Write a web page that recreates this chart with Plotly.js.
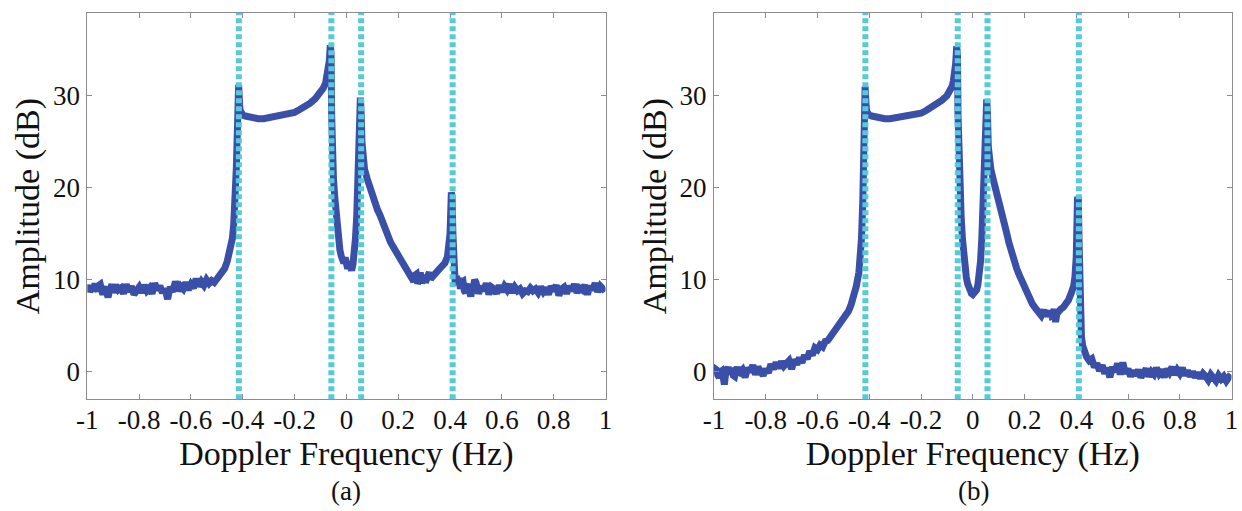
<!DOCTYPE html>
<html>
<head>
<meta charset="utf-8">
<script src="https://cdn.plot.ly/plotly-3.0.1.min.js"></script>
<style>
  html, body { margin: 0; padding: 0; background: #ffffff; }
  #chart { width: 1242px; height: 511px; }
</style>
</head>
<body>
<div id="chart"></div>
<script>
// ---------------- DATA ----------------
// Panel (a): Doppler frequency (Hz) and amplitude (dB)
const freqA = [
  -1.00,-0.995,-0.99,-0.985,-0.98,-0.975,-0.97,-0.965,-0.96,-0.955,-0.95,-0.945,-0.94,-0.935,-0.93,-0.925,-0.92,-0.915,-0.91,-0.905,
  -0.90,-0.89,-0.88,-0.87,-0.86,-0.85,-0.84,-0.83,-0.82,-0.81,
  -0.80,-0.79,-0.78,-0.77,-0.76,-0.75,-0.74,-0.73,-0.72,-0.71,
  -0.70,-0.69,-0.68,-0.67,-0.66,-0.65,-0.64,-0.63,-0.62,-0.61,
  -0.60,-0.59,-0.58,-0.57,-0.56,-0.55,-0.54,-0.53,-0.52,-0.51,
  -0.50,-0.49,-0.48,-0.47,-0.46,-0.45,-0.44,-0.435,-0.43,-0.425,
  -0.42,-0.418,-0.416,-0.414,-0.412,-0.41,-0.405,-0.40,-0.39,-0.38,
  -0.36,-0.34,-0.32,-0.30,-0.28,-0.26,-0.24,-0.22,-0.20,-0.18,
  -0.16,-0.14,-0.12,-0.10,-0.09,-0.08,-0.075,-0.07,-0.066,-0.062,
  -0.059,-0.057,-0.055,-0.05,-0.045,-0.04,-0.035,-0.03,-0.025,-0.02,
  -0.015,-0.01,-0.005,0.0,0.005,0.01,0.015,0.02,0.025,0.03,
  0.035,0.04,0.045,0.05,0.054,0.057,0.06,0.065,0.07,0.08,
  0.09,0.10,0.11,0.12,0.13,0.14,0.15,0.16,0.17,0.18,
  0.19,0.20,0.21,0.22,0.23,0.24,0.25,0.26,0.265,0.27,0.275,0.28,
  0.285,0.29,0.295,0.30,0.305,0.31,0.315,0.32,0.325,0.33,0.34,0.35,0.36,0.37,0.38,
  0.39,0.395,0.40,0.405,0.408,0.411,0.414,0.42,0.425,0.43,0.435,0.44,
  0.445,0.45,0.455,0.46,0.465,0.47,0.475,0.48,0.485,0.49,0.495,0.50,0.51,0.52,0.53,0.54,
  0.55,0.56,0.57,0.58,0.59,0.60,0.61,0.62,0.63,0.64,
  0.65,0.66,0.67,0.68,0.69,0.70,0.71,0.72,0.73,0.74,
  0.75,0.76,0.77,0.78,0.79,0.80,0.81,0.82,0.83,0.84,
  0.85,0.86,0.87,0.88,0.89,0.90,0.91,0.92,0.93,0.94,
  0.95,0.96,0.97,0.98,0.99,1.00
];
const ampA = [
  9.0,9.4,8.7,9.1,9.3,8.8,9.6,9.0,8.8,9.4,9.5,8.9,8.4,9.0,9.2,8.6,8.1,8.7,9.0,9.5,
  8.6,9.4,8.9,9.1,8.5,9.5,8.7,9.3,8.4,9.0,
  9.2,8.6,9.4,8.8,9.1,8.5,9.6,8.9,9.3,8.6,
  9.0,7.9,9.2,8.7,9.8,8.8,9.3,9.0,9.7,8.9,
  9.5,9.1,10.1,9.3,9.8,9.4,10.0,9.6,9.9,9.7,
  10.1,10.3,10.6,11.2,12.0,13.0,14.5,16.0,18.0,22.0,
  27.0,29.5,31.2,30.5,29.0,28.4,28.1,27.9,27.8,27.7,
  27.6,27.5,27.5,27.6,27.7,27.8,27.9,28.0,28.2,28.5,
  28.8,29.2,29.7,30.3,30.8,31.4,32.0,32.8,33.8,35.5,
  34.5,28.0,23.5,21.0,19.0,17.0,15.5,14.0,13.2,12.6,
  12.0,11.8,12.4,11.6,11.2,12.0,11.4,11.0,11.6,12.5,
  14.5,17.0,21.0,26.0,29.8,28.0,25.0,23.0,22.0,21.0,
  20.0,19.0,18.2,17.6,17.0,16.2,15.5,14.8,14.1,13.6,
  13.1,12.6,12.0,11.5,11.0,10.6,10.2,9.8,10.5,10.6,9.6,9.9,
  10.8,9.6,10.2,10.5,9.7,10.0,10.4,10.8,10.1,10.3,10.6,10.9,11.2,11.5,11.8,
  12.5,13.5,15.0,19.5,19.0,15.0,10.5,9.5,10.4,9.4,10.2,9.0,
  9.7,9.8,8.8,8.6,9.3,9.5,8.7,8.2,9.0,9.2,10.0,9.7,8.5,9.3,8.8,9.6,
  8.4,9.2,9.0,8.5,9.4,8.7,9.3,8.9,9.5,8.6,
  9.2,8.8,9.0,8.5,8.8,8.7,9.1,8.8,9.0,8.6,
  9.2,8.7,9.1,8.4,9.3,8.8,9.4,8.3,9.0,9.2,
  8.5,9.3,8.8,9.5,8.6,9.1,8.9,9.4,8.4,9.3,
  8.9,9.6,8.7,9.3,9.0,9.2
];

// Panel (b)
const freqB = [
  -1.00,-0.995,-0.99,-0.985,-0.98,-0.975,-0.97,-0.965,-0.96,-0.955,-0.95,-0.945,-0.94,-0.935,-0.93,-0.925,-0.92,-0.915,-0.91,-0.905,
  -0.90,-0.89,-0.88,-0.87,-0.86,-0.85,-0.84,-0.83,-0.82,-0.81,
  -0.80,-0.79,-0.78,-0.77,-0.76,-0.75,-0.74,-0.73,-0.72,-0.71,
  -0.70,-0.69,-0.68,-0.67,-0.66,-0.65,-0.64,-0.63,-0.62,-0.61,
  -0.60,-0.59,-0.58,-0.57,-0.56,-0.55,-0.54,-0.53,-0.52,-0.51,
  -0.50,-0.49,-0.48,-0.47,-0.46,-0.45,-0.44,-0.435,-0.43,-0.425,
  -0.42,-0.418,-0.416,-0.414,-0.412,-0.41,-0.405,-0.40,-0.39,-0.38,
  -0.36,-0.34,-0.32,-0.30,-0.28,-0.26,-0.24,-0.22,-0.20,-0.18,
  -0.16,-0.14,-0.12,-0.10,-0.09,-0.08,-0.075,-0.07,-0.066,-0.062,
  -0.059,-0.057,-0.055,-0.05,-0.045,-0.04,-0.035,-0.03,-0.025,-0.02,
  -0.015,-0.01,-0.005,0.0,0.005,0.01,0.015,0.02,0.025,0.03,
  0.035,0.04,0.045,0.05,0.054,0.057,0.06,0.065,0.07,0.08,
  0.09,0.10,0.11,0.12,0.13,0.14,0.15,0.16,0.17,0.18,
  0.19,0.20,0.21,0.22,0.23,0.24,0.25,0.26,0.265,0.27,0.275,0.28,
  0.285,0.29,0.295,0.30,0.305,0.31,0.315,0.32,0.325,0.33,0.34,0.35,0.36,0.37,0.38,
  0.39,0.395,0.40,0.405,0.408,0.411,0.414,0.417,0.42,0.425,
  0.43,0.44,0.45,0.46,0.47,0.48,0.49,0.50,0.51,0.52,
  0.53,0.54,0.55,0.56,0.57,0.58,0.59,0.60,0.61,0.62,
  0.63,0.64,0.65,0.66,0.67,0.68,0.69,0.70,0.71,0.72,
  0.73,0.74,0.75,0.76,0.77,0.78,0.79,0.80,0.81,0.82,
  0.83,0.84,0.85,0.86,0.87,0.88,0.89,0.90,0.91,0.92,
  0.93,0.94,0.95,0.96,0.97,0.98,0.99,1.00
];
const ampB = [
  -0.3,0.3,0.2,-0.4,-0.6,0.0,0.1,-0.5,-1.4,-0.2,0.3,0.5,-0.3,0.2,0.4,-0.4,-0.5,0.1,0.5,0.0,
  -0.1,0.2,-0.6,0.4,0.0,0.7,-0.3,0.5,0.1,-0.4,
  0.3,-0.1,0.8,0.3,1.0,0.4,1.1,0.6,0.9,1.2,
  0.3,1.3,0.8,1.5,1.0,1.8,1.4,2.2,1.8,2.6,
  2.4,2.9,2.7,3.3,3.4,3.8,4.1,4.4,4.7,5.1,
  5.5,6.0,6.6,7.3,8.2,9.3,10.8,12.3,14.5,18.5,
  25.5,29.5,31.0,30.2,28.8,28.3,28.0,27.9,27.8,27.7,
  27.6,27.5,27.5,27.6,27.6,27.7,27.8,28.0,28.1,28.4,
  28.7,29.1,29.5,30.0,30.4,31.0,31.6,32.4,33.5,35.4,
  34.4,28.0,24.0,21.0,17.0,14.5,12.5,11.2,10.3,9.6,
  9.0,8.7,8.5,8.4,8.6,8.5,8.9,9.5,10.5,12.0,
  14.5,17.5,21.5,26.0,29.6,28.0,24.5,23.0,22.0,20.8,
  19.8,18.8,17.8,16.5,15.2,14.0,12.9,12.0,11.2,10.5,
  9.8,9.2,8.5,7.9,7.4,7.0,6.7,6.5,6.1,6.4,6.7,6.3,
  6.6,6.0,6.4,6.6,6.1,6.2,6.8,5.4,6.3,6.6,6.8,7.0,7.3,7.8,8.5,
  9.3,10.3,12.5,19.0,18.8,14.0,8.0,5.0,3.8,2.8,
  2.2,1.6,1.2,1.4,0.5,0.9,0.1,0.7,-0.2,0.4,
  -0.6,0.5,0.0,0.9,-0.3,1.0,-0.2,0.3,-0.5,0.1,
  -0.4,0.2,-0.6,-0.1,0.3,-0.5,0.0,-0.3,0.4,-0.2,
  0.2,-0.6,0.3,-0.1,0.5,-0.3,0.2,-0.2,0.4,-0.4,
  0.1,-0.5,0.0,-0.6,-0.1,-0.7,-0.2,-0.5,-0.9,-0.3,
  -0.6,-1.0,-0.4,-0.8,-0.5,-1.0,-0.6,-0.8
];

// Vertical dotted reference frequencies (Hz)
const markerFreqs = [-0.415, -0.058, 0.057, 0.41];

// Tick labels
const xTickVals = [-1, -0.8, -0.6, -0.4, -0.2, 0, 0.2, 0.4, 0.6, 0.8, 1];
const xTickText = ["-1", "-0.8", "-0.6", "-0.4", "-0.2", "0", "0.2", "0.4", "0.6", "0.8", "1"];
const yTickVals = [0, 10, 20, 30];
const yTickText = ["0", "10", "20", "30"];
const panelLabels = ["(a)", "(b)"];

// ---------------- STYLE ----------------
const SERIF = "Liberation Serif";
const LINE_BLUE = "#3a4fa7";
const DOT_CYAN = "#58c8dc";
const AXIS_GRAY = "#8c8c8c";
const TEXT = "#111111";

function xAxis(domain, anchor) {
  return {
    domain: domain, anchor: anchor, range: [-1, 1],
    tickmode: "array", tickvals: xTickVals, ticktext: xTickText,
    ticks: "inside", ticklen: 5, tickwidth: 1, tickcolor: AXIS_GRAY,
    showline: true, linecolor: AXIS_GRAY, linewidth: 1, mirror: "ticks",
    showgrid: false, zeroline: false, automargin: false,
    ticklabelstandoff: -4,
    tickfont: { family: SERIF, size: 27, color: TEXT },
    title: { text: "Doppler Frequency (Hz)", font: { family: SERIF, size: 34, color: TEXT }, standoff: 0 }
  };
}
function yAxis(domain, anchor) {
  return {
    domain: domain, anchor: anchor, range: [-3, 39],
    tickmode: "array", tickvals: yTickVals, ticktext: yTickText,
    ticks: "inside", ticklen: 5, tickwidth: 1, tickcolor: AXIS_GRAY,
    showline: true, linecolor: AXIS_GRAY, linewidth: 1, mirror: "ticks",
    showgrid: false, zeroline: false, automargin: false,
    ticklabelstandoff: 1,
    tickfont: { family: SERIF, size: 27, color: TEXT },
    title: { text: "Amplitude (dB)", font: { family: SERIF, size: 34, color: TEXT }, standoff: 2 }
  };
}

const W = 1242, H = 511;
const dxA = [87.3 / W, 605.5 / W];
const dxB = [714 / W, 1231.5 / W];
const dy = [1 - 399.3 / H, 1 - 13 / H];

const traces = [
  { x: freqA, y: ampA, xaxis: "x", yaxis: "y", type: "scatter", mode: "lines",
    line: { color: LINE_BLUE, width: 7 }, hoverinfo: "skip", showlegend: false },
  { x: freqB, y: ampB, xaxis: "x2", yaxis: "y2", type: "scatter", mode: "lines",
    line: { color: LINE_BLUE, width: 7 }, hoverinfo: "skip", showlegend: false }
];

const shapes = [];
[["x", "y"], ["x2", "y2"]].forEach(function (ax) {
  markerFreqs.forEach(function (f) {
    shapes.push({
      type: "line", xref: ax[0], yref: ax[1] + " domain",
      x0: f, x1: f, y0: 0, y1: 1, layer: "above",
      line: { color: DOT_CYAN, width: 6, dash: "5px,3px" }
    });
  });
});

const annotations = [
  { text: panelLabels[0], xref: "paper", yref: "paper", x: 345.5 / W, y: 1 - 491 / H,
    xanchor: "center", yanchor: "middle", showarrow: false,
    font: { family: SERIF, size: 27, color: TEXT } },
  { text: panelLabels[1], xref: "paper", yref: "paper", x: 973 / W, y: 1 - 491 / H,
    xanchor: "center", yanchor: "middle", showarrow: false,
    font: { family: SERIF, size: 27, color: TEXT } }
];

const layout = {
  width: W, height: H,
  margin: { l: 0, r: 0, t: 0, b: 0, pad: 0 },
  paper_bgcolor: "#ffffff", plot_bgcolor: "#ffffff",
  showlegend: false,
  xaxis: xAxis(dxA, "y"),
  yaxis: yAxis(dy, "x"),
  xaxis2: xAxis(dxB, "y2"),
  yaxis2: yAxis(dy, "x2"),
  shapes: shapes,
  annotations: annotations
};

Plotly.newPlot("chart", traces, layout, { staticPlot: true, displayModeBar: false });
</script>
</body>
</html>
